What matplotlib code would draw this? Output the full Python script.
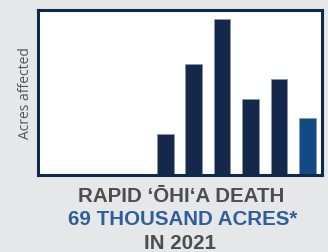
import matplotlib
matplotlib.use("Agg")
import matplotlib.pyplot as plt

slots = list(range(10))
values = [0, 0, 0, 0, 49, 135, 190, 93, 117, 69]
bar_colors = ["#13284b"] * 9 + ["#134a85"]

title_line1 = "RAPID \u02BB\u014CHI\u02BBA DEATH"
title_line2 = "69 THOUSAND ACRES*"
title_line3 = "IN 2021"
ylabel = "Acres affected"

fig = plt.figure(figsize=(3.28, 2.53), dpi=100)
fig.patch.set_facecolor("#e6e7e8")
ax = fig.add_axes([37.5/328, 1-175.5/253, 284/328, 165/253])
ax.set_facecolor("white")
ax.bar(slots, values, width=0.59, color=bar_colors, edgecolor="#8a96a8", linewidth=0.5)
ax.set_xlim(-0.5, 9.5)
ax.set_ylim(0, 202)
ax.set_xticks([])
ax.set_yticks([])
for s in ax.spines.values():
    s.set_color("#0d2a4a")
    s.set_linewidth(2.2)
ax.set_ylabel(ylabel, fontsize=10, color="#555555", family=["Open Sans", "DejaVu Sans"], labelpad=3)

fam = ["Liberation Sans Narrow", "Liberation Sans", "DejaVu Sans"]
fig.text(0.553, 1-197/253, title_line1, ha="center", va="center", fontsize=14.8, fontweight="bold", color="#4d4d4d", family=fam)
fig.text(0.556, 1-220/253, title_line2, ha="center", va="center", fontsize=14.8, fontweight="bold", color="#2f5f9a", family=fam)
fig.text(0.549, 1-244/253, title_line3, ha="center", va="center", fontsize=14.8, fontweight="bold", color="#4d4d4d", family=fam)

fig.savefig("out.png", dpi=100, facecolor=fig.get_facecolor())
